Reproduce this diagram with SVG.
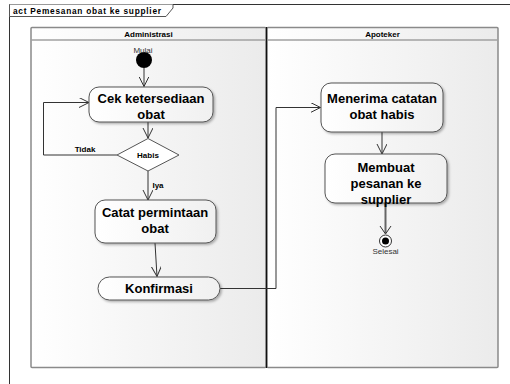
<svg xmlns="http://www.w3.org/2000/svg" width="510" height="384" viewBox="0 0 510 384">
<style>
.lane{stroke:#8a8a8a;stroke-width:1.5;fill:url(#laneg)}
.hdr{stroke:#a0a0a0;stroke-width:1.5}
.node{fill:url(#nodeg);stroke:#555;stroke-width:1;filter:url(#sh)}
.nt{font-family:"Liberation Sans",Arial,sans-serif;font-weight:bold;font-size:13px;fill:#000;text-anchor:middle}
.st{font-family:"Liberation Sans",Arial,sans-serif;font-weight:bold;font-size:8px;fill:#000;text-anchor:middle}
.sm{font-family:"Liberation Sans",Arial,sans-serif;font-size:8px;fill:#333;text-anchor:middle}
.c{fill:none;stroke:#333;stroke-width:1}
</style>
<defs>
<linearGradient id="laneg" x1="0" y1="0" x2="1" y2="0">
<stop offset="0" stop-color="#ffffff"/>
<stop offset="1" stop-color="#ebebeb"/>
</linearGradient>
<linearGradient id="nodeg" x1="0" y1="0" x2="1" y2="0">
<stop offset="0" stop-color="#ffffff"/>
<stop offset="1" stop-color="#f0f0f0"/>
</linearGradient>
<filter id="sh" x="-10%" y="-10%" width="130%" height="140%">
<feDropShadow dx="1.5" dy="1.5" stdDeviation="1" flood-color="#000" flood-opacity="0.3"/>
</filter>
<marker id="arr" markerWidth="12" markerHeight="12" refX="10" refY="5" orient="auto" markerUnits="userSpaceOnUse">
<path d="M0,0 L10,5 L0,10" fill="none" stroke="#333" stroke-width="1"/>
</marker>
</defs>
<rect width="510" height="384" fill="#fff"/>
<g id="frame">
<path d="M9.5,384 L9.5,4.5 L510,4.5" fill="none" stroke="#333" stroke-width="1"/>
<path d="M9.5,4.5 L9.5,16.5 L166,16.5 L173,8 L173,4.5" fill="#fff" stroke="#555" stroke-width="1"/>
<text x="13" y="13.5" font-family="Liberation Sans,Arial,sans-serif" font-weight="bold" font-size="8.3px" textLength="148" lengthAdjust="spacing" fill="#000">act Pemesanan obat ke supplier</text>
</g>
<g id="lane-administrasi">
<rect class="lane" x="31" y="27.5" width="235" height="340" rx="1"/>
<line class="hdr" x1="31" y1="40" x2="266" y2="40"/>
<text class="st" x="148.5" y="37">Administrasi</text>
</g>
<g id="lane-apoteker">
<rect class="lane" x="267" y="27.5" width="231" height="340" rx="1"/>
<line class="hdr" x1="267" y1="40" x2="498" y2="40"/>
<text class="st" x="382.5" y="37">Apoteker</text>
</g>
<line x1="266.5" y1="27" x2="266.5" y2="368" stroke="#111" stroke-width="1.2"/>
<g id="connectors">
<line class="c" x1="144" y1="68" x2="144" y2="86.5" marker-end="url(#arr)"/>
<line class="c" x1="148" y1="122" x2="148" y2="138" marker-end="url(#arr)"/>
<polyline class="c" points="117,155 43.5,155 43.5,102.5 89,102.5" marker-end="url(#arr)"/>
<line class="c" x1="148" y1="171" x2="148" y2="200" marker-end="url(#arr)"/>
<line class="c" x1="155" y1="243" x2="157" y2="276.5" marker-end="url(#arr)"/>
<polyline class="c" points="220,288.5 276,288.5 276,107.5 320.5,107.5" marker-end="url(#arr)"/>
<line class="c" x1="382" y1="132" x2="382" y2="154" marker-end="url(#arr)"/>
<line x1="385.5" y1="203" x2="385.5" y2="233" stroke="#666" stroke-width="2"/>
<path d="M380,226 L385.5,234 L391,226" fill="none" stroke="#333" stroke-width="1"/>
<text class="st" x="85" y="152">Tidak</text>
<text class="st" x="158" y="188">Iya</text>
</g>
<g id="start">
<circle cx="144" cy="60" r="8" fill="#000"/>
<text class="sm" x="143" y="53">Mulai</text>
</g>
<g id="cek">
<rect class="node" x="89" y="87" width="124" height="35" rx="10"/>
<text class="nt" x="151" y="103">Cek ketersediaan</text>
<text class="nt" x="151" y="119">obat</text>
</g>
<g id="habis">
<polygon points="148,138.5 179,155 148,171 117,155" fill="#fff" stroke="#555" stroke-width="1"/>
<text class="st" x="148" y="158">Habis</text>
</g>
<g id="catat">
<rect class="node" x="95" y="200" width="121" height="43" rx="10"/>
<text class="nt" x="155" y="217">Catat permintaan</text>
<text class="nt" x="155" y="233">obat</text>
</g>
<g id="konfirmasi">
<rect class="node" x="98" y="277" width="122" height="23" rx="11.5"/>
<text class="nt" x="159" y="293">Konfirmasi</text>
</g>
<g id="menerima">
<rect class="node" x="321" y="83" width="122" height="49" rx="10"/>
<text class="nt" x="382" y="103">Menerima catatan</text>
<text class="nt" x="382" y="119">obat habis</text>
</g>
<g id="membuat">
<rect class="node" x="325" y="154" width="122" height="49" rx="10"/>
<text class="nt" x="386" y="172">Membuat</text>
<text class="nt" x="386" y="188">pesanan ke</text>
<text class="nt" x="386" y="204">supplier</text>
</g>
<g id="end">
<circle cx="385.5" cy="241" r="6" fill="#fff" stroke="#333" stroke-width="1"/>
<circle cx="385.5" cy="241" r="3.5" fill="#000"/>
<text class="sm" x="385.5" y="254">Selesai</text>
</g>
</svg>
